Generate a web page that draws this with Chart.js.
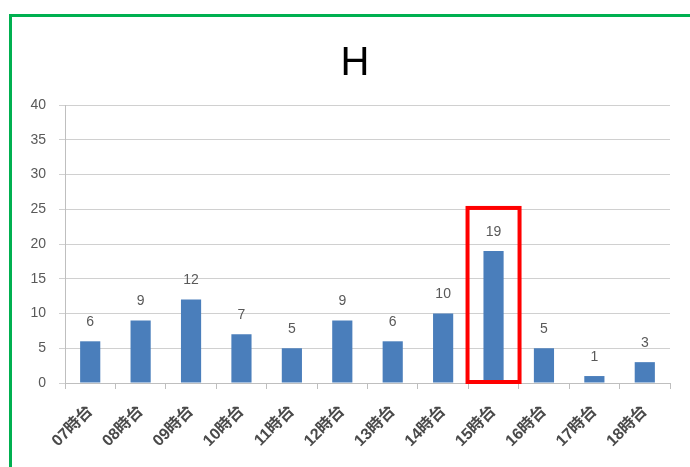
<!DOCTYPE html>
<html><head><meta charset="utf-8">
<script src="https://cdn.jsdelivr.net/npm/chart.js@4"></script>
<style>
html,body{margin:0;padding:0;background:#fff;overflow:hidden;}
#frame{position:absolute;left:9px;top:14px;width:700px;height:470px;border-left:3px solid #00b050;border-top:3px solid #00b050;}
#wrap{position:absolute;left:0;top:0;width:690px;height:467px;}
</style></head>
<body>
<div id="frame"></div>
<div id="wrap"><canvas id="c" width="690" height="467"></canvas></div>
<script>
const chartTitle = "H";
const categories = ["07時台","08時台","09時台","10時台","11時台","12時台","13時台","14時台","15時台","16時台","17時台","18時台"];
const counts = [6, 9, 12, 7, 5, 9, 6, 10, 19, 5, 1, 3];
const yTicks = [0, 5, 10, 15, 20, 25, 30, 35, 40];
const highlightIndex = 8;

const FONT = '"Liberation Sans", "Noto Sans CJK JP", sans-serif';
const GRAY = '#595959';

const labelPlugin = {
  id: 'valueLabels',
  afterDatasetsDraw(chart) {
    const ctx = chart.ctx;
    const meta = chart.getDatasetMeta(0);
    ctx.save();
    ctx.font = '14px ' + FONT;
    ctx.fillStyle = GRAY;
    ctx.textAlign = 'center';
    ctx.textBaseline = 'middle';
    meta.data.forEach((bar, i) => {
      ctx.fillText(String(counts[i]), bar.x, bar.y - 19);
    });
    ctx.restore();
  }
};

const titleShift = {
  id: 'titleShift',
  afterLayout(chart) {
    const t = chart.titleBlock;
    if (t) { t.left = 40; t.right = 670; }
  }
};

const highlightPlugin = {
  id: 'highlightBox',
  afterDraw(chart) {
    const bar = chart.getDatasetMeta(0).data[highlightIndex];
    const y = chart.scales.y;
    const ctx = chart.ctx;
    const top = bar.y - 43;
    const bottom = y.getPixelForValue(0) - 1;
    ctx.save();
    ctx.strokeStyle = '#ff0000';
    ctx.lineWidth = 4;
    ctx.strokeRect(bar.x - 26, top, 52, bottom - top);
    ctx.restore();
  }
};

new Chart(document.getElementById('c'), {
  type: 'bar',
  data: {
    labels: categories,
    datasets: [{
      data: counts,
      backgroundColor: '#4a7ebb',
      borderWidth: 0,
      barPercentage: 0.4,
      categoryPercentage: 1.0
    }]
  },
  options: {
    responsive: false,
    animation: false,
    devicePixelRatio: 1,
    layout: { padding: { left: 12, right: 20, top: 10, bottom: 0 } },
    plugins: {
      legend: { display: false },
      tooltip: { enabled: false },
      title: {
        display: true,
        text: chartTitle,
        color: '#000',
        font: { family: FONT, size: 40, weight: 'normal', lineHeight: 1.2 },
        padding: { top: 30, bottom: 17 }
      }
    },
    scales: {
      x: {
        grid: { offset: true, drawOnChartArea: false, drawTicks: true, tickLength: 6, color: '#bfbfbf' },
        border: { color: '#bfbfbf' },
        ticks: { color: '#4a4a4a', font: { family: FONT, size: 16, weight: 'bold' }, minRotation: 45, maxRotation: 45, autoSkip: false, padding: 13 },
        afterFit(s) { s.height = 84; }
      },
      y: {
        min: 0, max: 40,
        afterBuildTicks(s) { s.ticks = yTicks.map(v => ({ value: v })); },
        grid: { color: '#d0d0d0', tickLength: 6, drawTicks: true },
        border: { color: '#bfbfbf' },
        ticks: { color: GRAY, font: { family: FONT, size: 14 }, padding: 13 },
        afterFit(s) { s.width = 53; }
      }
    }
  },
  plugins: [labelPlugin, highlightPlugin, titleShift]
});
</script>
</body></html>
